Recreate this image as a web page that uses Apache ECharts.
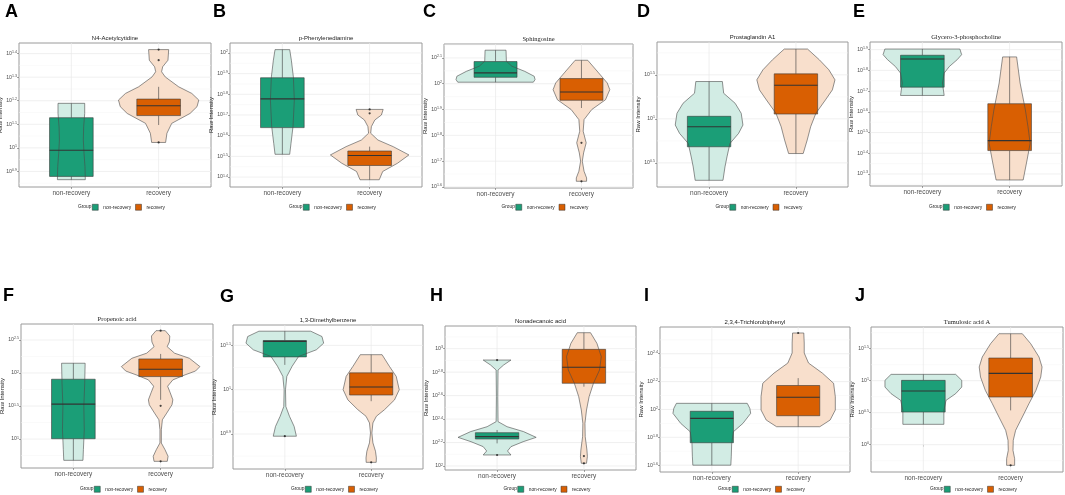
<!DOCTYPE html>
<html><head><meta charset="utf-8">
<script src="https://cdn.jsdelivr.net/npm/echarts@6/dist/echarts.min.js"></script>
<style>html,body{margin:0;padding:0;background:#fff}#c{width:1065px;height:495px}</style>
</head><body><div id="c"></div>
<script>
// ---------------- DATA ----------------
const panelLetters = ['A','B','C','D','E','F','G','H','I','J'];
const panelTitles = ['N4-Acetylcytidine','p-Phenylenediamine','Sphingosine','Prostaglandin A1','Glycero-3-phosphocholine',
  'Propenoic acid','1,3-Dimethylbenzene','Nonadecanoic acid','2,3,4-Trichlorobiphenyl','Tumulosic acid A'];
const titleSerif = [false,false,true,false,true,true,false,false,false,true];
const groups = ['non-recovery','recovery'];
// y tick exponents (log10 of Raw Intensity)
const yTicks = [
  [0.9,1,1.1,1.2,1.3,1.4],
  [1.4,1.5,1.6,1.7,1.8,1.9,2],
  [1.6,1.7,1.8,1.9,2,2.1],
  [0.5,1,1.5],
  [1.3,1.4,1.5,1.6,1.7,1.8,1.9],
  [1,1.5,2,2.5],
  [0.9,1,1.1],
  [2,2.2,2.4,2.6,2.8,3],
  [1.6,1.8,2,2.2,2.4],
  [0,0.5,1,1.5]
];
const yRange = [[0.834,1.445],[1.352,2.048],[1.596,2.154],[0.226,1.873],[1.242,1.937],
  [0.562,2.742],[0.821,1.146],[1.966,3.193],[1.551,2.592],[-0.427,1.839]];
// violin outlines: [log10 value, half width]
const violinNR = [
  [[1.189,0.153],[1.146,0.153],[1.090,0.141],[1.034,0.137],[0.977,0.145],[0.921,0.156],[0.865,0.16]],
  [[2.016,0.084],[1.965,0.103],[1.884,0.126],[1.772,0.137],[1.644,0.122],[1.563,0.099],[1.510,0.084]],
  [[2.130,0.122],[2.087,0.126],[2.068,0.19],[2.048,0.34],[2.029,0.45],[2.016,0.46],[2.006,0.44]],
  [[1.424,0.153],[1.291,0.168],[1.177,0.30],[1.063,0.37],[0.930,0.39],[0.835,0.34],[0.720,0.24],[0.568,0.206],[0.454,0.183],[0.302,0.16]],
  [[1.903,0.43],[1.876,0.45],[1.852,0.40],[1.819,0.31],[1.787,0.25],[1.739,0.23],[1.679,0.25]],
  [[2.148,0.135],[1.846,0.13],[1.493,0.12],[1.141,0.125],[0.839,0.115],[0.678,0.11]],
  [[1.132,0.30],[1.120,0.43],[1.105,0.45],[1.090,0.365],[1.075,0.16],[1.053,0.085],[1.030,0.023],[1.000,0.008],[0.962,0.012],[0.940,0.054],[0.917,0.108],[0.895,0.134]],
  [[2.903,0.16],[2.861,0.076],[2.818,0.011],[2.591,0.008],[2.378,0.011],[2.335,0.115],[2.293,0.305],[2.244,0.45],[2.207,0.30],[2.165,0.16],[2.128,0.12],[2.094,0.16]],
  [[2.044,0.41],[2.008,0.44],[1.972,0.45],[1.900,0.36],[1.840,0.25],[1.756,0.23],[1.660,0.225],[1.600,0.22]],
  [[1.099,0.37],[1.005,0.44],[0.901,0.44],[0.797,0.37],[0.693,0.26],[0.536,0.235],[0.318,0.235]]
];
const violinR = [
  [[1.417,0.115],[1.372,0.107],[1.344,0.046],[1.323,0.034],[1.301,0.076],[1.259,0.23],[1.231,0.38],[1.203,0.46],[1.175,0.44],[1.146,0.36],[1.104,0.15],[1.062,0.095],[1.023,0.08]],
  [[1.727,0.155],[1.700,0.135],[1.676,0.06],[1.644,0.02],[1.612,0.012],[1.579,0.095],[1.547,0.27],[1.507,0.45],[1.467,0.32],[1.427,0.15],[1.387,0.11]],
  [[2.091,0.073],[2.042,0.2],[2.003,0.3],[1.977,0.33],[1.938,0.28],[1.900,0.12],[1.861,0.03],[1.816,0.02],[1.771,0.055],[1.732,0.025],[1.700,0.01],[1.661,0.03],[1.635,0.06],[1.622,0.06]],
  [[1.793,0.134],[1.671,0.27],[1.557,0.38],[1.443,0.45],[1.329,0.42],[1.215,0.34],[1.063,0.23],[0.911,0.17],[0.759,0.13],[0.606,0.084]],
  [[1.865,0.08],[1.739,0.12],[1.610,0.18],[1.529,0.21],[1.448,0.235],[1.368,0.2],[1.271,0.155]],
  [[2.641,0.053],[2.560,0.105],[2.470,0.10],[2.399,0.075],[2.300,0.16],[2.223,0.33],[2.097,0.45],[2.030,0.40],[1.972,0.28],[1.896,0.14],[1.800,0.08],[1.700,0.11],[1.594,0.14],[1.519,0.13],[1.393,0.07],[1.292,0.02],[1.141,0.008],[0.940,0.008],[0.839,0.05],[0.739,0.085],[0.663,0.076]],
  [[1.079,0.126],[1.053,0.21],[1.030,0.29],[1.000,0.325],[0.977,0.27],[0.955,0.155],[0.940,0.06],[0.925,0.02],[0.902,0.008],[0.880,0.02],[0.861,0.05],[0.846,0.06],[0.836,0.058]],
  [[3.136,0.076],[3.045,0.15],[2.932,0.2],[2.818,0.18],[2.705,0.11],[2.591,0.06],[2.477,0.03],[2.364,0.012],[2.250,0.015],[2.136,0.035],[2.080,0.04],[2.023,0.03]],
  [[2.549,0.065],[2.477,0.07],[2.405,0.07],[2.333,0.12],[2.261,0.28],[2.188,0.41],[2.092,0.43],[1.996,0.43],[1.924,0.37],[1.876,0.25]],
  [[1.734,0.134],[1.578,0.23],[1.370,0.325],[1.214,0.36],[1.057,0.345],[0.849,0.29],[0.641,0.21],[0.432,0.134],[0.224,0.057],[0.068,0.03],[-0.089,0.027],[-0.219,0.046],[-0.323,0.046]]
];
// box stats: [whisker low, Q1, median, Q3, whisker high]
const boxNR = [
  [0.865,0.879,0.990,1.128,1.189],[1.510,1.639,1.778,1.880,2.016],[2.006,2.025,2.042,2.086,2.130],
  [0.302,0.683,0.911,1.029,1.424],[1.679,1.719,1.855,1.873,1.903],[0.678,1.005,1.529,1.906,2.148],
  [1.056,1.074,1.109,1.111,1.132],[2.193,2.230,2.250,2.284,2.307],[1.600,1.761,1.936,1.987,2.044],
  [0.318,0.510,0.839,1.005,1.099]
];
const boxR = [
  [1.097,1.137,1.179,1.207,1.259],[1.387,1.456,1.504,1.526,1.547],[1.906,1.936,1.968,2.020,2.091],
  [0.606,1.055,1.382,1.511,1.793],[1.271,1.413,1.461,1.639,1.865],[1.594,1.946,2.057,2.213,2.289],
  [0.974,0.988,1.006,1.038,1.079],[2.676,2.705,2.841,2.994,3.136],[1.876,1.955,2.088,2.172,2.225],
  [0.536,0.745,1.115,1.354,1.734]
];
const outliersNR = [[],[],[],[],[],[],[0.895],[2.903,2.094],[],[]];
const outliersR = [[1.417,1.372,1.023],[1.727,1.708],[1.771,1.622],[],[],[2.641,1.503,0.663],[0.836],[2.085,2.023],[2.549],[-0.323]];

// ---------------- LAYOUT / STYLE ----------------
const gridBoxes = [
  [19,43,192,144],[230,43,192,144],[444,44,189,144],[657,42,191,145],[870,42,192,144],
  [21,324,192,144],[233,325,190,144],[445,326,191,144],[660,327,190,145],[871,327,192,145]
];
const letterPos = [[5,12],[213,12],[423,12],[637,12],[853,12],[3,296],[220,297],[430,296],[644,296],[855,296]];
const FILL = ['#1b9e77','#d95f02'];
const LIGHT = ['#d2ece4','#f8dfcc'];
const BW = 0.25;
const SANS = '"Liberation Sans", Arial, sans-serif';
const SERIF = '"Liberation Serif", "DejaVu Serif", serif';
const fmt = v => String(Math.round(v*100)/100);

const option = {animation:false, grid:[], xAxis:[], yAxis:[], series:[], legend:[], graphic:[]};

panelTitles.forEach((title,i)=>{
  const [l,t,w,h] = gridBoxes[i];
  const cx = l + w/2;
  const row2 = i >= 5;
  option.grid.push({left:l, top:t, width:w, height:h, show:true, borderColor:'#9a9a9a', borderWidth:1, backgroundColor:'#fff',
    containLabel:false, outerBoundsMode:'none'});
  option.xAxis.push({type:'value', gridIndex:i, min:0.4, max:2.6, axisLine:{show:false}, splitLine:{show:false},
    axisTick:{show:true, customValues:[1,2], length:2, lineStyle:{color:'#666', width:0.6}},
    axisLabel:{customValues:[1,2], formatter:v=>groups[Math.round(v)-1], fontSize:6.5, color:'#4d4d4d', margin:3, fontFamily:SANS}});
  option.yAxis.push({type:'value', gridIndex:i, min:yRange[i][0], max:yRange[i][1],
    name:'Raw Intensity', nameLocation:'middle', nameGap:16, nameRotate:90, nameMoveOverlap:false,
    nameTextStyle:{fontSize:6, color:'#222', fontFamily:SANS},
    axisLine:{show:false}, splitLine:{show:false},
    axisTick:{show:true, customValues:yTicks[i], length:2, lineStyle:{color:'#666', width:0.6}},
    axisLabel:{customValues:yTicks[i], formatter:v=>'10{s|'+fmt(v)+'}', fontSize:5.2, color:'#4d4d4d', margin:2, fontFamily:SANS,
      rich:{s:{fontSize:3.6, verticalAlign:'top', padding:[0,0,3,0], color:'#4d4d4d', fontFamily:SANS}}}});

  // grid lines
  const ticks = yTicks[i];
  const step = ticks[1]-ticks[0];
  const gl = ticks.map(v=>[0,v]);
  const mids = [ticks[0]-step/2].concat(ticks.map(v=>v+step/2));
  mids.forEach(v=>{ if (v>yRange[i][0] && v<yRange[i][1]) gl.push([1,v]); });
  gl.push([2,1],[2,2]);
  option.series.push({type:'custom', xAxisIndex:i, yAxisIndex:i, silent:true, z:1, data:gl,
    renderItem:(p,api)=>{
      const k = api.value(0), v = api.value(1);
      let a,b;
      if (k===2){ a=api.coord([v,yRange[i][0]]); b=api.coord([v,yRange[i][1]]); }
      else { a=api.coord([0.4,v]); b=api.coord([2.6,v]); }
      return {type:'line', shape:{x1:a[0],y1:a[1],x2:b[0],y2:b[1]},
        style:{stroke: k===1 ? '#f4f4f4' : '#e9e9e9', lineWidth: k===1 ? 0.5 : 0.7}};
    }});

  [0,1].forEach(g=>{
    const prof = (g ? violinR : violinNR)[i];
    const box = (g ? boxR : boxNR)[i];
    const x = g+1;
    option.series.push({type:'custom', name:groups[g], xAxisIndex:i, yAxisIndex:i, z:2,
      itemStyle:{color:FILL[g]}, data:[[x, box[2]]],
      renderItem:(p,api)=>{
        const c = (xx,v)=>api.coord([xx,v]);
        const right = prof.map(([v,hw])=>c(x+hw,v));
        const left = prof.slice().reverse().map(([v,hw])=>c(x-hw,v));
        const poly = right.concat(left);
        const [wl,q1,md,q3,wh] = box;
        const b1 = c(x-BW,q3), b2 = c(x+BW,q1);
        const m1 = c(x-BW,md), m2 = c(x+BW,md);
        const tq3 = c(x,q3), twh = c(x,wh), tq1 = c(x,q1), twl = c(x,wl);
        return {type:'group', children:[
          {type:'polygon', shape:{points:poly}, style:{fill:LIGHT[g], stroke:null}},
          {type:'line', shape:{x1:tq3[0],y1:tq3[1],x2:twh[0],y2:twh[1]}, style:{stroke:'#3a3a3a', lineWidth:0.6}},
          {type:'line', shape:{x1:tq1[0],y1:tq1[1],x2:twl[0],y2:twl[1]}, style:{stroke:'#3a3a3a', lineWidth:0.6}},
          {type:'rect', shape:{x:b1[0], y:b1[1], width:b2[0]-b1[0], height:b2[1]-b1[1]}, style:{fill:FILL[g], stroke:'#3a3a3a', lineWidth:0.6}},
          {type:'polygon', shape:{points:poly}, style:{fill:null, stroke:'#4a4a4a', lineWidth:0.6}},
          {type:'line', shape:{x1:m1[0],y1:m1[1],x2:m2[0],y2:m2[1]}, style:{stroke:'#333', lineWidth:1.1}}
        ]};
      }});
    const outs = (g ? outliersR : outliersNR)[i];
    if (outs.length) option.series.push({type:'scatter', xAxisIndex:i, yAxisIndex:i, z:5, symbolSize:2.2,
      itemStyle:{color:'#1a1a1a'}, data:outs.map(v=>[x,v]), silent:true});
  });

  const legTop = row2 ? 486 : 204;
  option.legend.push({data:groups.slice(), left:cx-23, top:legTop, orient:'horizontal', itemWidth:6, itemHeight:6, itemGap:4,
    icon:'rect', padding:0, selectedMode:false, itemStyle:{borderColor:'#333', borderWidth:0.5},
    textStyle:{fontSize:4.8, color:'#222', fontFamily:SANS}});
  option.graphic.push({type:'text', x:cx-37, y:legTop+3, silent:true,
    style:{text:'Group', fontSize:4.8, fill:'#222', fontFamily:SANS, textVerticalAlign:'middle'}});
  option.graphic.push({type:'text', x:cx, y:t-5, silent:true,
    style:{text:title, fontSize: titleSerif[i] ? 6.5 : 6, fill:'#1a1a1a', fontFamily: titleSerif[i] ? SERIF : SANS,
      textAlign:'center', textVerticalAlign:'middle'}});
  option.graphic.push({type:'text', x:letterPos[i][0], y:letterPos[i][1], silent:true,
    style:{text:panelLetters[i], fontSize:18, fontWeight:'bold', fill:'#000', fontFamily:SANS, textVerticalAlign:'middle'}});
});

const chart = echarts.init(document.getElementById('c'));
chart.setOption(option);
</script>
</body></html>
